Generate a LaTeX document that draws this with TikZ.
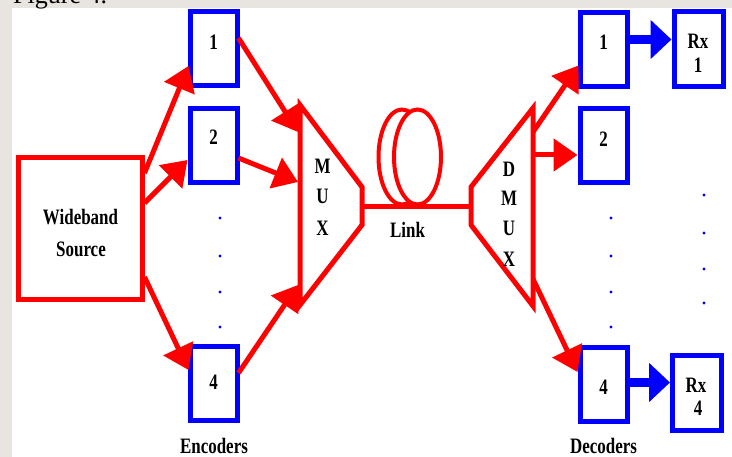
\documentclass[tikz,border=0pt]{standalone}
\usepackage{fontspec}
\setmainfont{Liberation Serif}
\newfontfamily\lblfont[FakeStretch=0.77]{Liberation Serif}
\usetikzlibrary{arrows.meta,calc}
\definecolor{rd}{RGB}{255,0,0}
\definecolor{bl}{RGB}{0,0,255}
\definecolor{bgg}{RGB}{232,228,223}
\begin{document}
\begin{tikzpicture}[x=1pt,y=-1pt,
  lbl/.style={font=\lblfont\bfseries\fontsize{22}{24}\selectfont, inner sep=0pt, text=black},
  bbox/.style={draw=bl, line width=5pt, minimum width=47pt, minimum height=74pt, inner sep=0pt},
  rxbox/.style={draw=bl, line width=5pt, minimum width=49pt, minimum height=75pt, inner sep=0pt},
  srcbox/.style={draw=rd, line width=5pt, minimum width=124pt, minimum height=142pt, inner sep=0pt},
  rarrow/.style={draw=rd, line width=5pt, -{Triangle[length=24pt,width=32pt]}},
  barrow/.style={draw=bl, line width=9pt, -{Triangle[length=21pt,width=38pt]}},
  redline/.style={draw=rd, line width=5pt, line join=miter},
  coil/.style={draw=rd, line width=4pt},
  dot/.style={fill=bl}]
\useasboundingbox (0,0) rectangle (732,457);
% background
\fill[bgg] (0,0) rectangle (732,457);
\fill[white] (12,8) rectangle (732,457);
\node[anchor=base west, font=\fontsize{26}{28}\selectfont, inner sep=0pt] (fig) at (13,3.5) {Figure 4.};

% source
\node[srcbox] (src) at (80,229) {};
\node[lbl] (srcA) at (80.5,217) {Wideband};
\node[lbl] (srcB) at (81,249) {Source};

% encoders
\node[bbox] (e1) at (213.5,49) {};
\node[bbox] (e2) at (213.5,146) {};
\node[bbox] (e4) at (213.5,384) {};
\node[lbl] (e1t) at (213.5,42) {1};
\node[lbl] (e2t) at (213.5,137) {2};
\node[lbl] (e4t) at (213.5,382) {4};
\foreach \yy in {218,256,292,327} \fill[dot] (220,\yy) circle (1.7);
\node[lbl] (enc) at (214,446) {Encoders};

% MUX
\coordinate (muxTL) at (300,105);
\coordinate (muxTR) at (362,187);
\coordinate (muxBR) at (362,225);
\coordinate (muxBL) at (300,305);
\draw[redline] (muxTL) -- (muxTR) -- (muxBR) -- (muxBL) -- cycle;
\node[lbl] (mM) at (322.5,166.5) {M};
\node[lbl] (mU) at (322.5,196.5) {U};
\node[lbl] (mX) at (322.5,228.5) {X};
\coordinate (muxIn1) at (298,132);
\coordinate (muxIn2) at (298,182);
\coordinate (muxIn4) at (298,285);
\coordinate (muxOut) at (362,207);

% DMUX
\coordinate (dmTL) at (471,187);
\coordinate (dmTR) at (533,108);
\coordinate (dmBR) at (533,306);
\coordinate (dmBL) at (471,225);
\draw[redline] (dmTL) -- (dmTR) -- (dmBR) -- (dmBL) -- cycle;
\node[lbl] (dD) at (509,169.5) {D};
\node[lbl] (dM) at (509,198.5) {M};
\node[lbl] (dU) at (509,228) {U};
\node[lbl] (dX) at (509,259.5) {X};
\coordinate (dmIn) at (471,207);
\coordinate (dmOut1) at (533,132);
\coordinate (dmOut2) at (533,155);
\coordinate (dmOut4) at (533,279);

% link coil
\draw[coil] (402,157) ellipse (23.5 and 47.5);
\draw[coil, fill=white] (417.5,157) ellipse (23.5 and 47.5);
\draw[redline] (muxOut) -- (dmIn);
\node[lbl] (link) at (407.5,230) {Link};

% decoders
\node[bbox] (d1) at (603.5,49.5) {};
\node[bbox] (d2) at (603.5,146) {};
\node[bbox] (d4) at (603.5,385) {};
\node[lbl] (d1t) at (603.5,42.5) {1};
\node[lbl] (d2t) at (603.5,139) {2};
\node[lbl] (d4t) at (603.5,387) {4};
\foreach \yy in {218,256,292,327} \fill[dot] (611,\yy) circle (1.7);
\node[lbl] (dec) at (603.5,446) {Decoders};

% receivers
\node[rxbox] (r1) at (698.5,49.5) {};
\node[rxbox] (r4) at (697,393.5) {};
\node[lbl] (r1a) at (698,41.5) {Rx};
\node[lbl] (r1b) at (698,65.5) {1};
\node[lbl] (r4a) at (696,385) {Rx};
\node[lbl] (r4b) at (698,408.5) {4};
\foreach \yy in {195,233,269,303} \fill[dot] (704,\yy) circle (1.7);

% connectors
\draw[rarrow] ($(src.north east)+(0,17.5)$) -- ($(e1.west)+(1,17)$);
\draw[rarrow] ($(src.north east)+(0,47.5)$) -- ($(e2.west)+(0,14)$);
\draw[rarrow] ($(src.south east)+(0,-25.5)$) -- ($(e4.west)+(1,-14)$);
\draw[rarrow] ($(e1.east)+(-1,-11)$) -- (muxIn1);
\draw[rarrow] ($(e2.east)+(-1,12)$) -- (muxIn2);
\draw[rarrow] ($(e4.east)+(-1,-11)$) -- (muxIn4);
\draw[rarrow] (dmOut1) -- ($(d1.west)+(1,16)$);
\draw[rarrow] (dmOut2) -- ($(d2.west)+(0,9)$);
\draw[rarrow] (dmOut4) -- ($(d4.west)+(0,-13)$);
\draw[barrow] (d1.east |- 0,39.5) -- (r1.west |- 0,39.5);
\draw[barrow] (d4.east |- 0,382.5) -- (r4.west |- 0,382.5);
\end{tikzpicture}
\end{document}
